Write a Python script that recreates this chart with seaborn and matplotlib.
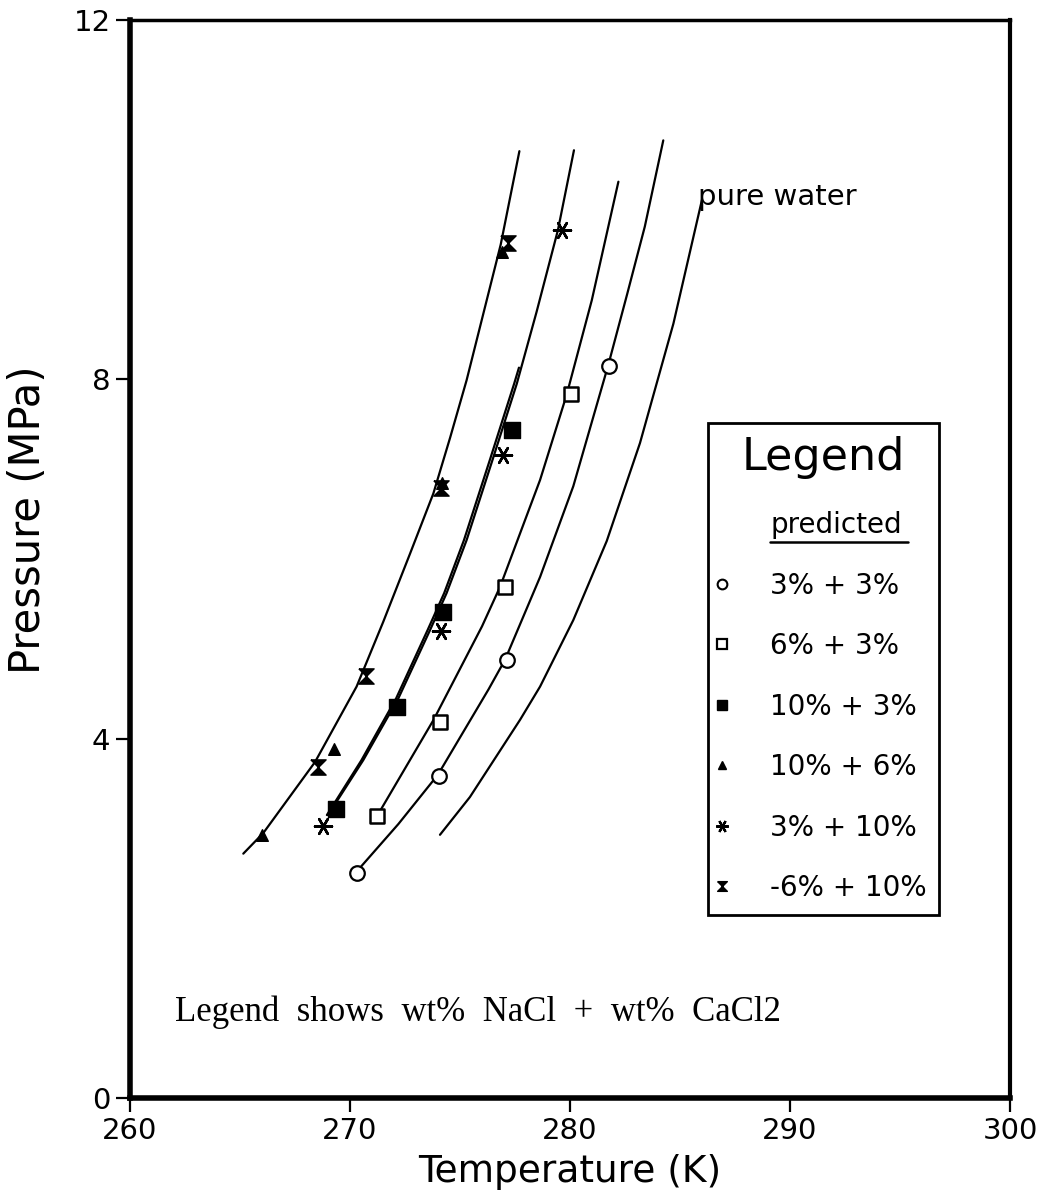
import matplotlib
matplotlib.use("Agg")
import matplotlib.pyplot as plt
import seaborn as sns
import pandas as pd
from matplotlib.lines import Line2D

# ---------------- data ----------------
# Predicted curves (Temperature K, Pressure MPa)
curveA_T = [265.15, 266.06, 268.41, 270.3, 271.51, 272.73, 273.79, 274.55, 275.3, 276.85, 277.7]   # 10%+6% / 6%+10%
curveA_P = [2.72, 2.95, 3.74, 4.58, 5.3, 6.06, 6.73, 7.35, 7.99, 9.5, 10.54]
curveB1_T = [269.0, 270.6, 272.2, 273.64, 274.39, 275.3, 276.5, 277.58, 278.48, 279.45, 280.18]  # 3%+10%
curveB1_P = [3.15, 3.76, 4.45, 5.21, 5.62, 6.21, 7.12, 7.95, 8.75, 9.66, 10.55]
curveB2_T = [268.95, 270.52, 272.1, 273.53, 274.28, 275.18, 276.38, 277.46, 277.68]             # 10%+3%
curveB2_P = [3.15, 3.76, 4.45, 5.21, 5.62, 6.21, 7.12, 7.95, 8.13]
curveC_T = [271.21, 273.8, 276.0, 276.82, 278.64, 279.85, 280.99, 282.2]                          # 6%+3%
curveC_P = [3.13, 4.21, 5.25, 5.69, 6.88, 7.83, 8.88, 10.2]
curveD_T = [270.3, 272.2, 274.0, 276.3, 277.05, 278.64, 280.15, 281.74, 282.6, 283.4, 284.24]    # 3%+3%
curveD_P = [2.52, 3.05, 3.6, 4.55, 4.88, 5.80, 6.81, 8.16, 8.95, 9.7, 10.66]
curveE_T = [274.09, 275.45, 277.73, 278.64, 280.15, 281.67, 283.18, 284.7, 286.0]                 # pure water
curveE_P = [2.93, 3.35, 4.21, 4.58, 5.32, 6.2, 7.29, 8.62, 10.0]

# Experimental points per mixture (wt% NaCl + wt% CaCl2)
series_labels = ["3% + 3%", "6% + 3%", "10% + 3%", "10% + 6%", "3% + 10%", "-6% + 10%"]
pts_3_3_T = [270.33, 274.06, 277.12, 281.77]
pts_3_3_P = [2.51, 3.58, 4.88, 8.15]
pts_6_3_T = [271.24, 274.09, 277.05, 280.05]
pts_6_3_P = [3.14, 4.19, 5.69, 7.84]
pts_10_3_T = [269.36, 272.15, 274.24, 277.35]
pts_10_3_P = [3.22, 4.35, 5.41, 7.44]
pts_10_6_T = [266.0, 269.29, 274.2, 276.9]
pts_10_6_P = [2.93, 3.89, 6.85, 9.42]
pts_3_10_T = [268.76, 274.14, 276.97, 279.62]
pts_3_10_P = [3.03, 5.20, 7.16, 9.66]
pts_6_10_T = [268.53, 270.73, 274.14, 277.18]
pts_6_10_P = [3.69, 4.70, 6.79, 9.52]

x_ticks = [260, 270, 280, 290, 300]
y_ticks = [0, 4, 8, 12]

# ---------------- styling ----------------
sns.set_theme(style="white")
plt.rcParams['font.family'] = ['DejaVu Sans']
plt.rcParams.update({"text.color": "black", "axes.labelcolor": "black",
                     "xtick.color": "black", "ytick.color": "black"})

fig = plt.figure(figsize=(10.44, 12.02), dpi=100)
ax = fig.add_axes([130 / 1044, 104 / 1202, 880 / 1044, 1078 / 1202])

curves = [(curveA_T, curveA_P), (curveB1_T, curveB1_P), (curveB2_T, curveB2_P),
          (curveC_T, curveC_P), (curveD_T, curveD_P), (curveE_T, curveE_P)]
for T, P in curves:
    df = pd.DataFrame({"T": T, "P": P})
    sns.lineplot(data=df, x="T", y="P", sort=False, estimator=None, color="black",
                 linewidth=1.6, ax=ax)

hourglass = [(-1, 1), (1, 1), (-1, -1), (1, -1), (-1, 1)]
mstyles = [
    dict(marker="o", facecolor="white", edgecolor="black", s=110, linewidth=1.6),
    dict(marker="s", facecolor="white", edgecolor="black", s=110, linewidth=1.8),
    dict(marker="s", facecolor="black", edgecolor="black", s=120, linewidth=1.0),
    dict(marker="^", facecolor="black", edgecolor="black", s=70, linewidth=1.0),
    dict(marker=(6, 2, 30), color="black", s=150, linewidth=1.8),
    dict(marker=hourglass, facecolor="black", edgecolor="black", s=120, linewidth=1.0),
]
pts = [(pts_3_3_T, pts_3_3_P), (pts_6_3_T, pts_6_3_P), (pts_10_3_T, pts_10_3_P),
       (pts_10_6_T, pts_10_6_P), (pts_3_10_T, pts_3_10_P), (pts_6_10_T, pts_6_10_P)]
for (T, P), st in zip(pts, mstyles):
    df = pd.DataFrame({"T": T, "P": P})
    sns.scatterplot(data=df, x="T", y="P", ax=ax, legend=False, zorder=5, **st)

ax.set_xlim(260, 300)
ax.set_ylim(0, 12)
ax.set_xticks(x_ticks)
ax.set_yticks(y_ticks)
ax.set_xticklabels([str(v) for v in x_ticks], fontsize=21)
ax.set_yticklabels([str(v) for v in y_ticks], fontsize=21)
ax.tick_params(axis="both", direction="out", length=10, width=1.6, color="black",
               bottom=True, left=True, top=False, right=False, pad=4, labelcolor="black")
ax.set_xlabel("Temperature (K)", fontsize=27, labelpad=6, color="black")
ax.set_ylabel("Pressure (MPa)", fontsize=30, color="black")
ax.yaxis.set_label_coords(-0.092, 0.536)
for side, lw in [("left", 4), ("bottom", 4), ("right", 3), ("top", 2.5)]:
    ax.spines[side].set_visible(True)
    ax.spines[side].set_color("black")
    ax.spines[side].set_linewidth(lw)
ax.grid(False)

ax.text(285.8, 10.03, "pure water", fontsize=21, ha="left", va="center", color="black")
ax.text(262.05, 0.96, "Legend  shows  wt%  NaCl  +  wt%  CaCl2", fontsize=25,
        family="Liberation Serif", ha="left", va="center", color="black")

# legend
handles = [Line2D([], [], linestyle="none", marker=None)]
labels = ["predicted"]
leg_m = [
    dict(marker="o", mfc="white", mec="black", ms=7, mew=1.5),
    dict(marker="s", mfc="white", mec="black", ms=7, mew=1.6),
    dict(marker="s", mfc="black", mec="black", ms=7),
    dict(marker="^", mfc="black", mec="black", ms=6),
    dict(marker=(6, 2, 30), color="black", ms=9, mew=1.6),
    dict(marker=hourglass, mfc="black", mec="black", ms=7),
]
for lab, m in zip(series_labels, leg_m):
    handles.append(Line2D([], [], linestyle="none", **m))
    labels.append(lab)
leg = ax.legend(handles, labels, loc="upper left", bbox_to_anchor=(0.657, 0.626),
                title="Legend", title_fontsize=32, fontsize=20, frameon=True,
                fancybox=False, edgecolor="black", framealpha=1, borderaxespad=0,
                labelspacing=1.17, handlelength=0.1, handletextpad=1.68, borderpad=0.45)
leg.get_frame().set_linewidth(2.0)
for t in leg.get_texts():
    t.set_color("black")
leg.get_title().set_color("black")

fig.canvas.draw()
bb = leg.get_texts()[0].get_window_extent()
y_line = bb.y0 - 3
fig.add_artist(Line2D([bb.x0 / fig.bbox.width, (bb.x1 + 6) / fig.bbox.width],
                      [y_line / fig.bbox.height, y_line / fig.bbox.height],
                      transform=fig.transFigure, color="black", linewidth=1.8))

fig.savefig("out.png", dpi=100, facecolor="white")
